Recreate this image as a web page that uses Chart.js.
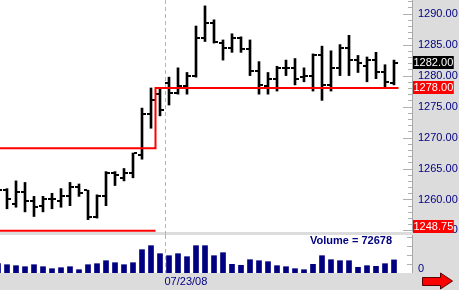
<!DOCTYPE html>
<html>
<head>
<meta charset="utf-8">
<script src="https://cdn.jsdelivr.net/npm/chart.js@4.4.1/dist/chart.umd.min.js"></script>
<style>
  html, body { margin: 0; padding: 0; background: #dcdcdc; }
  body { width: 459px; height: 290px; position: relative; overflow: hidden; }
  canvas { position: absolute; left: 0; }
  #priceChart { top: 0; }
  #volumeChart { top: 235px; }
  #arrow { position: absolute; left: 421px; top: 272px; }
</style>
</head>
<body>
<canvas id="priceChart" width="459" height="235"></canvas>
<canvas id="volumeChart" width="459" height="55"></canvas>
<svg id="arrow" width="34" height="19">
  <polygon points="1.5,5.5 19.5,5.5 19.5,1 31.5,9 19.5,17 19.5,13.5 1.5,13.5" fill="#ff0000" stroke="#5a0000" stroke-width="1"/>
</svg>
<script>
// one bar per entry, index 0 is the bar cut by the left edge
const opens = [1262, 1261.5, 1259.25, 1261.25, 1259.75, 1259, 1260, 1259.75, 1260.5, 1262,
    1261.5, 1257.25, 1260.5, 1264.25, 1263.5, 1264.25, 1267.25, 1273.75, 1277, 1278.75,
    1277.25, 1278.25, 1280, 1286, 1288.5, 1285.25, 1284.5, 1286, 1284.25, 1280.75,
    1278.25, 1279.5, 1281.25, 1281.25, 1279.75, 1280, 1283.25, 1278.5, 1281.25, 1284.5,
    1282.5, 1281.5, 1282.5, 1280.5, 1278.75];
const highs = [1262.5, 1261.75, 1263, 1262.75, 1260.5, 1260.5, 1261, 1261.75, 1262.75, 1262.5,
    1261.5, 1260.75, 1264.5, 1264.5, 1265, 1267.5, 1274.75, 1278, 1278, 1279.75,
    1281.25, 1280.5, 1288, 1291.25, 1289, 1285.75, 1286.75, 1286.25, 1285.75, 1282.25,
    1280.5, 1281.5, 1282.5, 1282.75, 1281.25, 1283.5, 1284.75, 1284, 1285, 1286.5,
    1283.25, 1283, 1283.75, 1281.75, 1282.5];
const lows = [1260.5, 1258.5, 1258.75, 1258, 1257.25, 1258, 1258.5, 1258.75, 1259, 1260.5,
    1256.75, 1257, 1259, 1262.25, 1263, 1263.5, 1266.5, 1271.5, 1273.5, 1275.25,
    1277, 1277, 1279.75, 1285.5, 1285.25, 1282.5, 1283.75, 1283.75, 1280, 1277,
    1277, 1277.5, 1280, 1278.5, 1279, 1277.5, 1276, 1277.5, 1280, 1280,
    1280.5, 1279, 1279.5, 1278, 1278.5];
const closes = [1261.5, 1260, 1261.25, 1259.75, 1258.75, 1260, 1260, 1260.5, 1262, 1261,
    1257.25, 1260.5, 1264.25, 1264, 1264.25, 1267.5, 1273.75, 1276, 1274.5, 1277.25,
    1278.25, 1280, 1286, 1288.5, 1285.5, 1284.5, 1286, 1284.25, 1280.75, 1278.5,
    1279.5, 1281.25, 1281.25, 1279.5, 1280, 1283.25, 1278.5, 1281.25, 1284.5, 1282.5,
    1282, 1282.5, 1280.5, 1279, 1282];
const volumes = [51700, 46100, 40600, 35000, 46100, 35000, 23900, 29400, 35000, 18300,
    46100, 51700, 68300, 57200, 46100, 57200, 129500, 151700, 107200, 96100,
    107200, 90600, 151700, 151700, 96100, 112800, 48300, 42800, 73900, 68300,
    62800, 40600, 35000, 23900, 18300, 48300, 96100, 73900, 68300, 68300,
    31700, 40600, 37200, 51700, 72678];

const priceTicks = [1255, 1260, 1265, 1270, 1275, 1280, 1285, 1290];
const dateLabel = '07/23/08';
const dateBreak = 18.5;       // session divider, between bar 18 and 19

// support / resistance levels
const levelBreak = 17.5;
const levelEnd = 44.5;
const levelBefore = 1268.25;
const levelAfter = 1278.00;
const prevLow = 1248.75;

const xMin = 0.222, xMax = 46;
const priceMin = 1254.75, priceMax = 1292.2;
const volMax = 211000, volStep = 50000;

const NAVY = '#000080';
const RED = '#ff0000';
Chart.defaults.font.family = "'Liberation Sans', Arial, sans-serif";

function tickImage(side) {
    const c = document.createElement('canvas');
    c.width = 8;
    c.height = 2;
    const g = c.getContext('2d');
    g.fillStyle = '#000';
    g.fillRect(side === 'left' ? 0 : 5, 0, 3, 2);
    return c;
}

function rightAxisFit(scale) {
    scale.width = 47;
    scale.paddingTop = 0;
    scale.paddingBottom = 0;
}

function drawDivider(chart, bottom) {
    const ctx = chart.ctx;
    const x = Math.round(chart.scales.x.getPixelForValue(dateBreak)) + 0.5;
    ctx.save();
    ctx.strokeStyle = '#b4b4b4';
    ctx.lineWidth = 1;
    ctx.setLineDash([4, 3]);
    ctx.beginPath();
    ctx.moveTo(x, chart.chartArea.top);
    ctx.lineTo(x, bottom);
    ctx.stroke();
    ctx.restore();
}

function valueBox(chart, value, color, text) {
    const ctx = chart.ctx;
    const area = chart.chartArea;
    let y = Math.round(chart.scales.y.getPixelForValue(value));
    y = Math.min(y, area.bottom - 5);
    ctx.font = "11px 'Liberation Sans', Arial, sans-serif";
    const w = ctx.measureText(text).width + 1;
    ctx.fillStyle = color;
    ctx.fillRect(area.right + 1, y - 7, w, 13);
    ctx.fillStyle = '#fff';
    ctx.textAlign = 'left';
    ctx.textBaseline = 'middle';
    ctx.fillText(text, area.right + 1.5, y - 0.5);
}

const pricePanel = {
    id: 'pricePanel',
    beforeDraw(chart) {
        const a = chart.chartArea;
        chart.ctx.fillStyle = '#fff';
        chart.ctx.fillRect(a.left, a.top, a.right - a.left, a.bottom - a.top);
    },
    beforeDatasetsDraw(chart) {
        drawDivider(chart, chart.height);
    },
    afterDraw(chart) {
        const ctx = chart.ctx;
        const a = chart.chartArea;
        const y = chart.scales.y;
        ctx.save();
        ctx.strokeStyle = '#b0b0b0';
        ctx.lineWidth = 1;
        ctx.beginPath();
        for (let v = Math.ceil(y.min); v <= y.max; v++) {
            const py = Math.round(y.getPixelForValue(v)) + 0.5;
            const len = v % 5 === 0 ? 9 : 4;
            ctx.moveTo(a.right - len, py);
            ctx.lineTo(a.right, py);
        }
        ctx.stroke();
        ctx.strokeStyle = '#a8a8a8';
        ctx.beginPath();
        ctx.moveTo(a.right + 0.5, a.top);
        ctx.lineTo(a.right + 0.5, a.bottom);
        ctx.stroke();
        valueBox(chart, closes[closes.length - 1], '#000', closes[closes.length - 1].toFixed(2));
        valueBox(chart, levelAfter, RED, levelAfter.toFixed(2));
        valueBox(chart, prevLow, RED, prevLow.toFixed(2));
        ctx.restore();
    }
};

const priceChart = new Chart(document.getElementById('priceChart'), {
    type: 'bar',
    data: {
        datasets: [{
            type: 'line',
            data: [
                {x: 0, y: levelBefore}, {x: levelBreak, y: levelBefore},
                {x: levelBreak, y: levelAfter}, {x: levelEnd, y: levelAfter}
            ],
            borderColor: RED,
            borderWidth: 2,
            pointRadius: 0
        }, {
            type: 'line',
            // below the visible range, so it is pinned to the bottom edge
            data: [{x: 0, y: Math.max(prevLow, priceMin + 0.2)}, {x: levelBreak, y: Math.max(prevLow, priceMin + 0.2)}],
            borderColor: RED,
            borderWidth: 2,
            pointRadius: 0
        }, {
            type: 'scatter',
            data: opens.map((v, i) => ({x: i, y: v})),
            pointStyle: tickImage('left'),
            pointRadius: 3
        }, {
            type: 'scatter',
            data: closes.map((v, i) => ({x: i, y: v})),
            pointStyle: tickImage('right'),
            pointRadius: 3
        }, {
            data: highs.map((h, i) => ({x: i, y: [lows[i], h]})),
            backgroundColor: '#000',
            barThickness: 2,
            borderWidth: 0
        }]
    },
    options: {
        responsive: false,
        animation: false,
        events: [],
        layout: {autoPadding: false, padding: {left: 0, right: 0, top: 0, bottom: 3}},
        plugins: {legend: {display: false}, tooltip: {enabled: false}},
        scales: {
            x: {
                type: 'linear',
                display: false,
                offset: false,
                min: xMin,
                max: xMax
            },
            y: {
                position: 'right',
                min: priceMin,
                max: priceMax,
                afterFit: rightAxisFit,
                afterBuildTicks(scale) {
                    scale.ticks = priceTicks.map(v => ({value: v}));
                },
                grid: {display: false, drawTicks: false},
                border: {display: false},
                ticks: {
                    color: NAVY,
                    font: {size: 11},
                    padding: 6,
                    callback: v => Number(v).toFixed(2)
                }
            }
        }
    },
    plugins: [pricePanel]
});

const volumePanel = {
    id: 'volumePanel',
    beforeDraw(chart) {
        const a = chart.chartArea;
        chart.ctx.fillStyle = '#fff';
        chart.ctx.fillRect(a.left, a.top, a.right - a.left, a.bottom - a.top);
    },
    beforeDatasetsDraw(chart) {
        drawDivider(chart, chart.chartArea.bottom);
    },
    afterDraw(chart) {
        const ctx = chart.ctx;
        const a = chart.chartArea;
        const y = chart.scales.y;
        ctx.save();
        ctx.strokeStyle = '#b0b0b0';
        ctx.lineWidth = 1;
        ctx.beginPath();
        for (let v = volStep; v < y.max; v += volStep) {
            const py = Math.round(y.getPixelForValue(v)) + 0.5;
            ctx.moveTo(a.right - 5, py);
            ctx.lineTo(a.right, py);
        }
        ctx.stroke();
        ctx.strokeStyle = '#a8a8a8';
        ctx.beginPath();
        ctx.moveTo(a.right + 0.5, a.top);
        ctx.lineTo(a.right + 0.5, a.bottom);
        ctx.stroke();
        ctx.font = "bold 11px 'Liberation Sans', Arial, sans-serif";
        ctx.fillStyle = NAVY;
        ctx.textAlign = 'right';
        ctx.textBaseline = 'alphabetic';
        ctx.fillText('Volume = ' + volumes[volumes.length - 1], 392, 9);
        ctx.restore();
    }
};

const volumeChart = new Chart(document.getElementById('volumeChart'), {
    type: 'bar',
    data: {
        datasets: [{
            data: volumes.map((v, i) => ({x: i, y: v})),
            backgroundColor: NAVY,
            barThickness: 5,
            borderWidth: 0
        }]
    },
    options: {
        responsive: false,
        animation: false,
        events: [],
        layout: {autoPadding: false, padding: 0},
        plugins: {legend: {display: false}, tooltip: {enabled: false}},
        scales: {
            x: {
                type: 'linear',
                offset: false,
                min: xMin,
                max: xMax,
                afterBuildTicks(scale) {
                    scale.ticks = [{value: dateBreak}];
                },
                afterFit(scale) {
                    scale.height = 17;
                    scale.paddingLeft = 0;
                    scale.paddingRight = 0;
                },
                grid: {display: false, drawTicks: false},
                border: {display: false},
                ticks: {
                    color: NAVY,
                    font: {size: 11},
                    padding: 2,
                    align: 'start',
                    maxRotation: 0,
                    autoSkip: false,
                    callback: () => dateLabel
                }
            },
            y: {
                position: 'right',
                min: 0,
                max: volMax,
                afterFit: rightAxisFit,
                grid: {display: false, drawTicks: false},
                border: {display: false},
                ticks: {
                    stepSize: volStep,
                    color: NAVY,
                    font: {size: 11},
                    padding: 6,
                    labelOffset: -4,
                    callback: v => (v === 0 ? '0' : '')
                }
            }
        }
    },
    plugins: [volumePanel]
});
</script>
</body>
</html>
